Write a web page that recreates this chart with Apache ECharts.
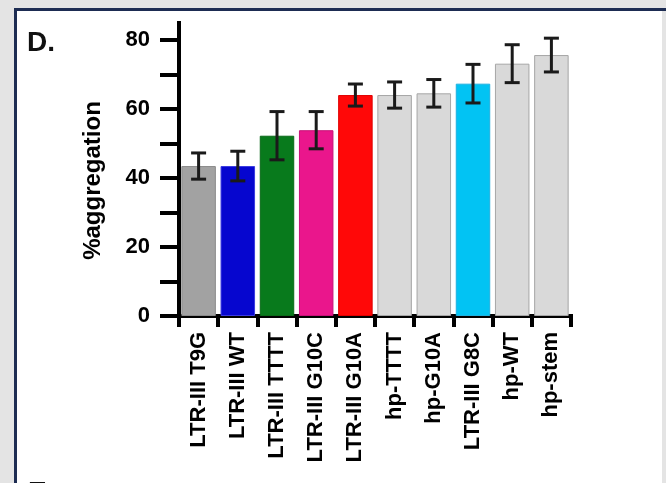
<!DOCTYPE html>
<html>
<head>
<meta charset="utf-8">
<script src="https://cdn.jsdelivr.net/npm/echarts@6/dist/echarts.min.js"></script>
<style>
html,body{margin:0;padding:0;background:#e4e4e4;}
#chart{width:666px;height:483px;}
</style>
</head>
<body>
<div id="chart"></div>
<script>
var categories = ['LTR-III T9G','LTR-III WT','LTR-III TTTT','LTR-III G10C','LTR-III G10A','hp-TTTT','hp-G10A','LTR-III G8C','hp-WT','hp-stem'];
var means = [43.5, 43.5, 52.3, 53.9, 64.1, 64.1, 64.6, 67.4, 73.2, 75.7];
var errors = [3.8, 4.3, 7.0, 5.4, 3.2, 3.8, 4.0, 5.6, 5.5, 4.9];
var barColors = ['#a2a2a2','#0606cf','#087a1c','#ea168c','#ff0808','#d9d9d9','#d9d9d9','#02c3f3','#d9d9d9','#d9d9d9'];
var barBorders = ['#8a8a8a','#3a3ae0','#0a6a18','#c81078','#e00000','#a6a6a6','#a6a6a6','#20b0e0','#a6a6a6','#a6a6a6'];
var yTicks = [0,10,20,30,40,50,60,70,80];
var yLabels = [0,20,40,60,80];

var chart = echarts.init(document.getElementById('chart'), null, {renderer:'canvas'});
var font = 'Liberation Sans, Arial, sans-serif';
var option = {
  backgroundColor: '#e4e4e4',
  animation: false,
  graphic: [
    {type:'rect', shape:{x:17, y:11, width:645, height:480}, style:{fill:'#ffffff'}, z:-10},
    {type:'line', shape:{x1:15.5, y1:8, x2:15.5, y2:483}, style:{stroke:'#1d2c52', lineWidth:3}, z:-5},
    {type:'line', shape:{x1:14, y1:9.5, x2:666, y2:9.5}, style:{stroke:'#1d2c52', lineWidth:3}, z:-5},
    {type:'text', left:27, top:29, style:{text:'D.', font:'bold 28px ' + font, fill:'#111'}},
    {type:'text', left:28, top:479, style:{text:'E.', font:'bold 28px ' + font, fill:'#111'}}
  ],
  grid: {left:179, right:95, top:23, bottom:167, containLabel:false},
  xAxis: {
    type:'category',
    data: categories,
    axisLine:{lineStyle:{color:'#000', width:4, cap:'square'}},
    axisTick:{show:true, length:11, lineStyle:{color:'#000', width:4}},
    axisLabel:{rotate:90, margin:16, color:'#000', fontSize:22, fontWeight:'bold', fontFamily:font, interval:0}
  },
  yAxis: {
    type:'value',
    min:0, max:85, interval:10,
    name:'%aggregation',
    nameLocation:'middle',
    nameGap:74,
    nameTextStyle:{color:'#000', fontSize:24, fontFamily:font, fontWeight:'bold', padding:[0,22,0,0]},
    splitLine:{show:false},
    axisLine:{show:true, lineStyle:{color:'#000', width:4, cap:'square'}},
    axisTick:{show:true, length:19, lineStyle:{color:'#000', width:4}, customValues: yTicks},
    axisLabel:{margin:29, color:'#000', fontSize:22, fontWeight:'bold', fontFamily:font, customValues: yLabels}
  },
  series: [
    {
      type:'bar',
      data: means.map(function(v,i){return {value:v, itemStyle:{color:barColors[i], borderColor:barBorders[i], borderWidth:1}};}),
      barCategoryGap:'12%',
      z:2
    },
    {
      type:'custom',
      z:5,
      data: means.map(function(v,i){return [i, v - errors[i], v + errors[i]];}),
      renderItem: function(params, api){
        var lo = api.coord([api.value(0), api.value(1)]);
        var hi = api.coord([api.value(0), api.value(2)]);
        var hw = 7.5;
        var st = {stroke:'#1a1a1a', lineWidth:3};
        return {type:'group', children:[
          {type:'line', shape:{x1:lo[0], y1:lo[1], x2:hi[0], y2:hi[1]}, style:st},
          {type:'line', shape:{x1:lo[0]-hw, y1:lo[1], x2:lo[0]+hw, y2:lo[1]}, style:st},
          {type:'line', shape:{x1:hi[0]-hw, y1:hi[1], x2:hi[0]+hw, y2:hi[1]}, style:st}
        ]};
      }
    }
  ]
};
chart.setOption(option);
</script>
</body>
</html>
